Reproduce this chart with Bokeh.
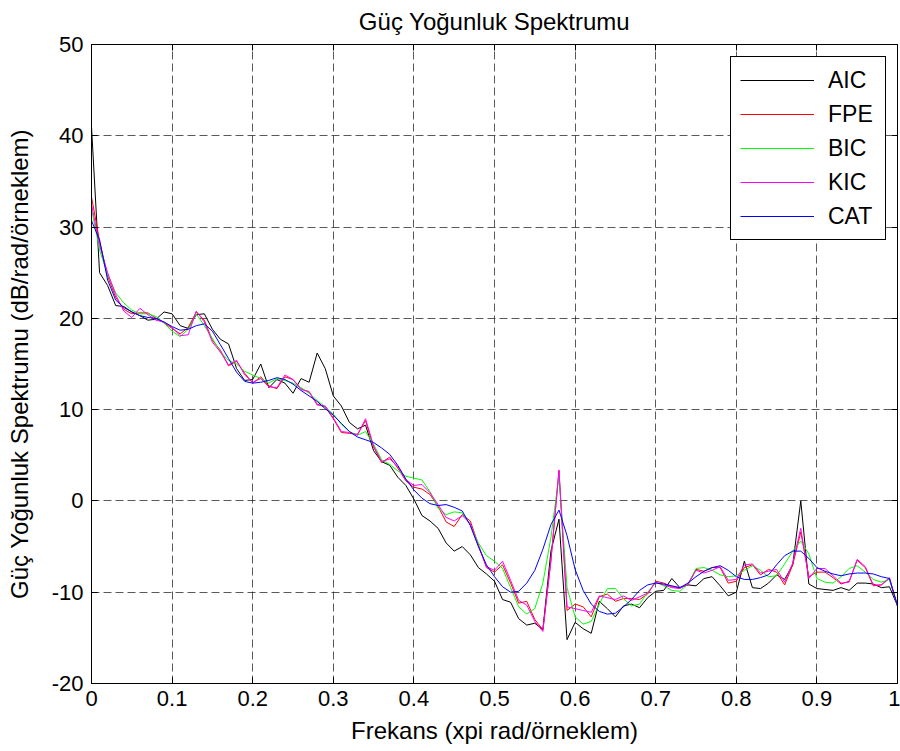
import numpy as np
from bokeh.plotting import figure
from bokeh.models import (ColumnDataSource, LinearAxis, FixedTicker, Range1d,
                          CustomJSTickFormatter)
from bokeh.embed import file_html
from bokeh.resources import INLINE

# ---------------- data (dB/rad/sample) ----------------
freq = [round(k / 100, 2) for k in range(101)]

aic = [41.0, 25.0, 23.6, 21.4, 21.3, 20.7, 20.3, 19.8, 19.9, 20.7,
       20.5, 19.2, 18.9, 20.4, 20.5, 18.8, 17.7, 17.2, 14.5, 13.2,
       13.3, 15.0, 12.4, 13.3, 12.9, 11.8, 13.4, 13.0, 16.2, 14.5,
       11.5, 10.4, 8.6, 7.9, 8.3, 5.5, 4.3, 3.9, 2.6, 1.7,
       0.2, -1.6, -2.2, -3.0, -4.6, -5.5, -5.0, -5.9, -7.3, -8.0,
       -8.8, -10.8, -11.1, -12.9, -13.6, -13.4, -14.1, -5.5, -2.0, -15.2,
       -13.3, -14.0, -14.5, -11.0, -11.8, -12.7, -11.5, -11.3, -11.7, -10.6,
       -9.9, -9.8, -8.5, -9.5, -9.2, -9.3, -8.5, -8.3, -9.3, -10.4,
       -10.0, -6.6, -9.5, -9.6, -9.0, -8.1, -8.6, -7.0, 0.0, -9.1,
       -9.6, -9.7, -9.8, -9.5, -9.8, -9.0, -9.0, -9.1, -9.5, -9.4,
       -11.5]

fpe = [33.3, 28.5, 24.6, 22.3, 21.0, 20.5, 20.6, 20.6, 20.0, 19.5,
       18.9, 18.3, 19.0, 20.7, 19.8, 17.6, 16.5, 14.8, 15.3, 14.0,
       12.9, 13.6, 12.6, 12.3, 13.6, 13.3, 12.3, 11.9, 10.6, 10.3,
       9.0, 7.5, 7.4, 7.3, 8.8, 5.9, 4.2, 4.8, 3.6, 2.2,
       1.5, 1.3, 0.7, -0.6, -2.3, -2.8, -1.5, -2.2, -4.8, -7.3,
       -7.8, -7.0, -9.0, -11.2, -11.0, -13.0, -14.1, -6.5, 3.3, -12.0,
       -11.3, -11.6, -12.7, -10.5, -10.2, -11.0, -10.7, -10.7, -10.8, -10.2,
       -8.8, -9.0, -9.4, -9.5, -9.2, -7.5, -7.7, -7.3, -7.3, -9.0,
       -8.8, -7.3, -7.0, -8.1, -7.5, -7.8, -9.2, -7.0, -3.4, -8.3,
       -7.8, -7.8, -8.4, -9.1, -8.8, -6.5, -7.3, -9.3, -9.2, -8.5,
       -11.5]

bic = [32.0, 27.5, 24.8, 22.8, 21.7, 20.9, 20.5, 20.5, 20.2, 19.5,
       18.6, 18.0, 18.8, 20.5, 19.2, 17.8, 16.3, 15.4, 15.0, 14.2,
       13.8, 13.4, 12.9, 13.4, 13.2, 12.9, 12.4, 11.8, 11.0, 10.3,
       9.5, 8.4, 7.6, 7.2, 7.6, 6.2, 4.5, 4.0, 3.3, 2.7,
       2.5, 2.3, 1.0, -0.8, -1.5, -1.2, -1.3, -2.6, -4.6, -6.0,
       -6.6, -7.4, -9.5, -11.6, -12.4, -11.8, -9.0, -4.0, 2.8, -9.5,
       -12.7, -13.5, -13.2, -11.3, -9.6, -9.6, -10.7, -11.5, -11.3, -10.0,
       -8.9, -9.3, -9.8, -9.9, -9.1, -7.4, -7.3, -7.6, -8.1, -8.3,
       -8.2, -7.6, -7.1, -7.6, -8.3, -8.2, -6.9, -5.5, -4.4, -5.8,
       -8.5, -8.9, -9.0, -8.3, -7.4, -7.1, -7.8, -8.6, -8.9, -8.6,
       -11.5]

kic = [32.5, 28.0, 25.0, 22.6, 20.8, 20.1, 21.1, 20.4, 19.8, 19.6,
       19.0, 18.1, 18.2, 20.8, 19.6, 17.4, 16.3, 14.9, 15.4, 13.8,
       13.0, 13.4, 12.5, 12.4, 13.8, 13.3, 12.2, 12.0, 10.5, 10.4,
       9.1, 7.6, 7.5, 7.2, 9.0, 6.0, 4.3, 4.6, 3.8, 2.3,
       1.7, 1.8, 0.9, -0.4, -1.8, -2.2, -1.6, -2.5, -4.9, -7.2,
       -7.6, -6.6, -8.7, -10.9, -11.4, -13.2, -14.3, -6.6, 3.4, -11.6,
       -11.8, -12.0, -12.2, -10.4, -10.6, -10.8, -10.4, -10.9, -10.5, -10.1,
       -8.9, -9.2, -9.5, -9.6, -9.1, -7.6, -7.9, -7.6, -7.2, -8.7,
       -8.6, -7.0, -6.9, -7.9, -7.7, -7.5, -8.9, -6.8, -3.0, -8.5,
       -7.4, -7.4, -8.2, -9.0, -8.9, -6.4, -7.2, -9.2, -9.2, -8.4,
       -11.5]

cat = [30.7, 28.6, 24.2, 22.0, 21.2, 20.7, 20.3, 20.1, 20.0, 19.6,
       19.1, 18.7, 18.8, 19.2, 19.4, 18.6, 17.1, 15.6, 14.1, 13.1,
       12.9, 13.0, 13.2, 13.5, 13.3, 12.8, 12.1, 11.5, 10.9, 10.1,
       9.4, 8.5, 7.6, 7.0, 6.7, 6.4, 5.8, 5.1, 3.9, 2.4,
       1.2, 0.3, -0.3, -0.5, -0.4, -0.7, -1.1, -2.7, -5.0, -7.0,
       -8.3, -9.4, -10.0, -9.9, -9.0, -7.6, -5.3, -2.6, -1.0, -3.8,
       -7.5, -9.8, -11.3, -12.1, -12.4, -12.3, -11.6, -10.8, -9.8, -9.2,
       -9.0, -9.1, -9.3, -9.5, -9.0, -8.3, -7.7, -7.3, -7.1, -7.6,
       -8.3, -8.6, -8.6, -8.4, -8.1, -7.0, -6.0, -5.5, -5.5, -6.3,
       -7.3, -7.7, -8.0, -8.2, -8.0, -7.9, -7.9, -8.0, -8.3, -8.5,
       -11.5]

series_names = ["AIC", "FPE", "BIC", "KIC", "CAT"]
series_values = [aic, fpe, bic, kic, cat]
series_colors = ["#000000", "#ff0000", "#00ff00", "#ff00ff", "#0000ff"]

x_ticks = [0, 0.1, 0.2, 0.3, 0.4, 0.5, 0.6, 0.7, 0.8, 0.9, 1]
x_tick_labels = ["0", "0.1", "0.2", "0.3", "0.4", "0.5", "0.6", "0.7", "0.8", "0.9", "1"]
y_ticks = [-20, -10, 0, 10, 20, 30, 40, 50]
y_tick_labels = ["-20", "-10", "0", "10", "20", "30", "40", "50"]

title_text = "Güç Yoğunluk Spektrumu"
x_label = "Frekans (xpi rad/örneklem)"
y_label = "Güç Yoğunluk Spektrumu (dB/rad/örneklem)"

FONT = "Liberation Sans"

# ---------------- figure ----------------
p = figure(width=900, height=751, frame_width=806, frame_height=639,
           x_range=Range1d(0, 1), y_range=Range1d(-20, 50),
           output_backend="svg", toolbar_location=None,
           min_border_left=91, min_border_right=3,
           min_border_top=44, min_border_bottom=68)

p.background_fill_color = "white"
p.border_fill_color = "white"
p.outline_line_color = "black"
p.outline_line_width = 1
p.outline_line_alpha = 1.0

p.title.text = title_text
p.title.align = "center"
p.title.vertical_align = "top"
p.title.text_font = FONT
p.title.text_font_size = "24px"
p.title.text_font_style = "normal"
p.title.text_color = "black"
p.title.standoff = 15

def style_axis(ax, ticks):
    ax.ticker = FixedTicker(ticks=ticks)
    ax.major_tick_in = 6
    ax.major_tick_out = 0
    ax.minor_tick_in = 0
    ax.minor_tick_out = 0
    ax.axis_line_color = "black"
    ax.major_tick_line_color = "black"
    ax.major_label_text_font = FONT
    ax.major_label_text_color = "black"
    ax.axis_label_text_font = FONT
    ax.axis_label_text_font_size = "24px"
    ax.axis_label_text_font_style = "normal"
    ax.axis_label_text_color = "black"

xa = p.xaxis[0]
ya = p.yaxis[0]
style_axis(xa, x_ticks)
style_axis(ya, y_ticks)
xa.major_label_overrides = {t: l for t, l in zip(x_ticks, x_tick_labels)}
ya.major_label_overrides = {t: l for t, l in zip(y_ticks, y_tick_labels)}
xa.major_label_text_font_size = "22px"
ya.major_label_text_font_size = "22px"
xa.major_label_standoff = 7
ya.major_label_standoff = 8
xa.axis_label = x_label
ya.axis_label = y_label
xa.axis_label_standoff = 8
ya.axis_label_standoff = 16

# box ticks on top and right (no labels)
blank = CustomJSTickFormatter(code="return '';")
for loc, ticks in (("above", x_ticks), ("right", y_ticks)):
    ax = LinearAxis(formatter=blank)
    style_axis(ax, ticks)
    ax.major_label_text_font_size = "1px"
    ax.major_label_standoff = 0
    p.add_layout(ax, loc)

for g, ticks in ((p.xgrid[0], x_ticks), (p.ygrid[0], y_ticks)):
    g.ticker = FixedTicker(ticks=ticks)
    g.grid_line_color = "#222222"
    g.grid_line_alpha = 0.75
    g.grid_line_dash = "8 4"
    g.grid_line_width = 1

for name, vals, col in zip(series_names, series_values, series_colors):
    src = ColumnDataSource(dict(f=freq, db=vals))
    p.line("f", "db", source=src, line_color=col, line_width=1,
           legend_label=name)

legend = p.legend[0]
legend.location = (639, 443)
legend.label_text_font = FONT
legend.label_text_font_size = "23px"
legend.label_text_color = "black"
legend.glyph_width = 74
legend.glyph_height = 28
legend.label_height = 28
legend.label_width = 48
legend.label_standoff = 14
legend.spacing = 6
legend.padding = 9
legend.margin = 0
legend.border_line_color = "black"
legend.border_line_width = 1
legend.border_line_alpha = 1.0
legend.background_fill_color = "white"
legend.background_fill_alpha = 1.0

open("out.html", "w").write(file_html(p, INLINE))
